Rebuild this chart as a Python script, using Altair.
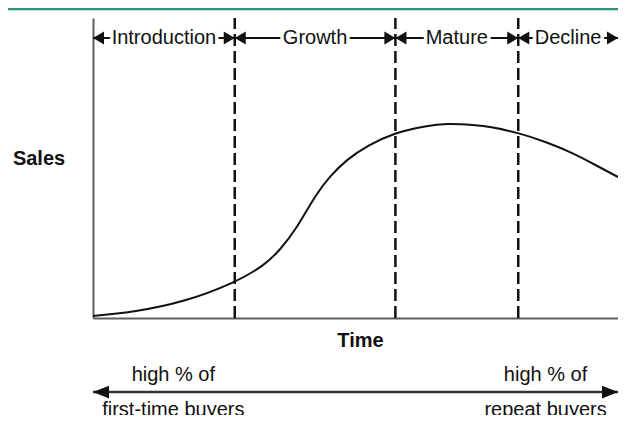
import altair as alt
import pandas as pd

# ---------------- data ----------------
stage_names = ["Introduction", "Growth", "Mature", "Decline"]
stage_labels = ["Introduction", "Growth", "Mature", "Decline"]
stage_bounds = [0, 27.0, 57.6, 81.0, 100]

time_pts = [0, 7.9, 17.3, 27.0, 32.8, 35.6, 38.5, 42.6, 45.2, 48.2, 52.5,
            57.4, 63.2, 67.5, 72.6, 75.8, 81.1, 86.3, 91.4, 95.7, 100]
sales_pts = [0.7, 2.0, 5.3, 11.7, 17.7, 22.7, 29.0, 41.7, 47.3, 52.7, 57.7,
             61.7, 64.0, 64.9, 64.3, 63.7, 61.7, 58.7, 55.0, 51.0, 47.0]

buyer_top = ["high % of", "high % of"]
buyer_bottom = ["first-time buyers", "repeat buyers"]
buyer_time = [15.3, 86.2]

# ---------------- layout constants ----------------
FONT = "Liberation Sans"
INK = "#111111"
STAGE_Y = 93.3
ARROW_Y = -24.7
TOP_TEXT_Y = -19.0
BOTTOM_TEXT_Y = -30.7

curve_df = pd.DataFrame({"t": time_pts, "s": sales_pts})
bounds_df = pd.DataFrame({"t": stage_bounds[1:-1]})
stage_df = pd.DataFrame({
    "name": stage_names,
    "label": stage_labels,
    "start": stage_bounds[:-1],
    "end": stage_bounds[1:],
})
stage_df["mid"] = (stage_df["start"] + stage_df["end"]) / 2
buyers_df = pd.DataFrame({
    "t": buyer_time * 2,
    "label": buyer_top + buyer_bottom,
    "s": [TOP_TEXT_Y] * 2 + [BOTTOM_TEXT_Y] * 2,
})
ends_df = pd.DataFrame({"t": [0, 100]})

xs = alt.Scale(domain=[0, 100], nice=False, zero=False)
ys = alt.Scale(domain=[0, 100], nice=False, zero=False)

axis_common = dict(ticks=False, labels=False, grid=False, domainColor="#5e5e5e",
                   domainWidth=2, titleFontSize=20, titleFontWeight="bold",
                   titleFont=FONT, titleColor=INK, titleAlign="center",
                   titleBaseline="middle")
XAX = alt.Axis(title="Time", titleX=267, titleY=22, **axis_common)
YAX = alt.Axis(title="Sales", titleAngle=0, titleX=-54.5, titleY=140, **axis_common)

LEFT_TRI_S = "M -0.85 0 L 0.85 -1 L 0.85 1 Z"
RIGHT_TRI_S = "M 0.85 0 L -0.85 -1 L -0.85 1 Z"
LEFT_TRI_B = "M -1 0 L 1 -0.8 L 1 0.8 Z"
RIGHT_TRI_B = "M 1 0 L -1 -0.8 L -1 0.8 Z"


def X(field):
    return alt.X(field, scale=xs, axis=XAX)


def Y(field):
    return alt.Y(field, scale=ys, axis=YAX)


def XD(v):
    return alt.XDatum(v, scale=xs, axis=XAX)


def YD(v):
    return alt.YDatum(v, scale=ys, axis=YAX)


curve = alt.Chart(curve_df).mark_line(color=INK, strokeWidth=2, interpolate="basis").encode(
    x=X("t:Q"), y=Y("s:Q"),
)

dashed = alt.Chart(bounds_df).mark_rule(color=INK, strokeWidth=2.5, strokeDash=[12, 5]).encode(
    x=X("t:Q"), y=YD(0), y2=alt.datum(100),
)

teal = alt.Chart(ends_df.head(1)).mark_rule(color="#2f8f83", strokeWidth=2.5).encode(
    x=alt.value(-85), x2=alt.value(525), y=alt.value(-9)
)

stage_rule = alt.Chart(stage_df).mark_rule(color=INK, strokeWidth=2).encode(
    x=X("start:Q"), x2="end:Q", y=YD(STAGE_Y),
)

stage_halo = alt.Chart(stage_df).mark_text(
    font=FONT, fontSize=20, color="white", stroke="white", strokeWidth=7,
    baseline="middle", align="center"
).encode(x=X("mid:Q"), y=YD(STAGE_Y), text="label:N")

stage_text = alt.Chart(stage_df).mark_text(
    font=FONT, fontSize=20, color=INK, baseline="middle", align="center"
).encode(x=X("mid:Q"), y=YD(STAGE_Y), text="label:N")

tri_left = alt.Chart(stage_df).mark_point(
    shape=LEFT_TRI_S, size=169, filled=True, color=INK, opacity=1, xOffset=5.5
).encode(x=X("start:Q"), y=YD(STAGE_Y))
tri_right = alt.Chart(stage_df).mark_point(
    shape=RIGHT_TRI_S, size=169, filled=True, color=INK, opacity=1, xOffset=-5.5
).encode(x=X("end:Q"), y=YD(STAGE_Y))

arrow_rule = alt.Chart(ends_df.head(1)).mark_rule(color="#333333", strokeWidth=2.5).encode(
    x=XD(0), x2=alt.datum(100), y=YD(ARROW_Y),
)
arrow_l = alt.Chart(ends_df.head(1)).mark_point(
    shape=LEFT_TRI_B, size=256, filled=True, color=INK, opacity=1, xOffset=8
).encode(x=X("t:Q"), y=YD(ARROW_Y))
arrow_r = alt.Chart(ends_df.tail(1)).mark_point(
    shape=RIGHT_TRI_B, size=256, filled=True, color=INK, opacity=1, xOffset=-8
).encode(x=X("t:Q"), y=YD(ARROW_Y))

buyers = alt.Chart(buyers_df).mark_text(
    font=FONT, fontSize=20, color=INK, baseline="middle", align="center"
).encode(x=X("t:Q"), y=Y("s:Q"), text="label:N")

chart = alt.layer(
    teal, curve, dashed, stage_rule, stage_halo, tri_left, tri_right, stage_text,
    arrow_rule, arrow_l, arrow_r, buyers
).properties(
    width=525, height=300,
    autosize=alt.AutoSizeParams(type="none"),
    padding={"left": 85, "top": 10, "right": 0, "bottom": 97},
    background="white",
).configure_view(stroke=None)

chart.save("out.html", embed_options={"renderer": "svg", "actions": False})
